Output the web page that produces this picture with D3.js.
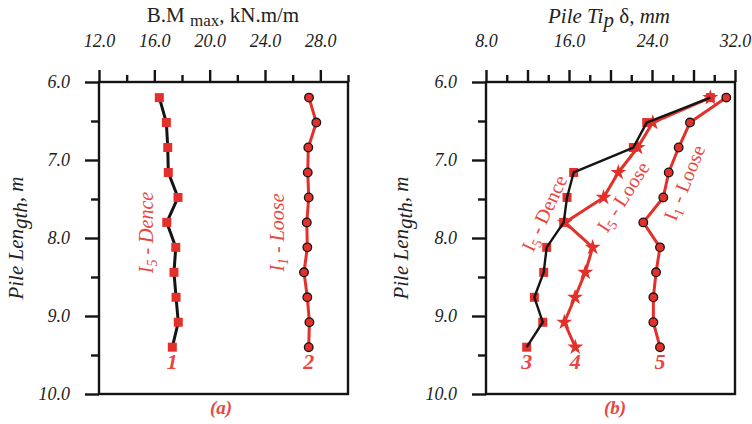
<!DOCTYPE html>
<html>
    <head>
        <meta charset="utf-8">
        <title>Pile results</title>
        <script type="text/javascript" src="https://d3js.org/d3.v7.min.js"></script>
        <style>
            body { margin: 0; background: #fff; }
            text { font-family: "Liberation Serif", "Times New Roman", serif; }
        </style>
    </head>
    <body>
        <script type="text/javascript">
            // pile length (m) at each measured point
            let depth = [6.2, 6.52, 6.84, 7.16, 7.48, 7.8, 8.12, 8.44, 8.76, 9.08, 9.4];

            // (a) B.M max, kN.m/m
            let bmDense = [16.36, 16.87, 16.97, 17.01, 17.71, 16.9, 17.55, 17.42, 17.57, 17.73, 17.3];
            let bmLoose = [27.18, 27.71, 27.13, 27.09, 27.16, 27.02, 27.06, 26.82, 27.06, 27.21, 27.16];

            // (b) pile tip displacement, mm
            let tipDenseI5 = [29.62, 23.49, 22.2, 16.45, 15.81, 15.49, 13.85, 13.56, 12.66, 13.47, 11.92];
            let tipLooseI5 = [29.62, 24.07, 22.62, 20.75, 19.34, 15.61, 18.28, 17.57, 16.58, 15.55, 16.61];
            let tipLooseI1 = [31.16, 27.66, 26.57, 25.61, 25.09, 23.16, 24.77, 24.39, 24.13, 24.13, 24.77];

            let yMajor = [6, 7, 8, 9, 10];
            let yMinor = [6.5, 7.5, 8.5, 9.5];
            let bmMajor = [12, 16, 20, 24, 28];
            let bmMinor = [14, 18, 22, 26, 30];
            let tipMajor = [8, 12, 16, 20, 24, 28, 32];
            let tipMinor = [10, 14, 18, 22, 26, 30];
            let tipLabels = [8, 16, 24, 32];

            let red = '#e3302a';
            let redText = '#e8463f';
            let ink = '#141414';

            let svg = d3.select('body')
                .append('svg')
                .attr('width', 752)
                .attr('height', 424);

            let y = d3.scaleLinear().domain([6, 10]).range([82, 394]);
            let xa = d3.scaleLinear().domain([12, 30]).range([99, 348]);
            let xb = d3.scaleLinear().domain([8, 32]).range([486, 735]);

            function drawAxes(x, major, minor, labels) {
                let g = svg.append('g');
                let fmt = d => labels.includes(d) ? d.toFixed(1) : '';

                g.append('g')
                    .attr('transform', `translate(0,${y(6)})`)
                    .call(d3.axisTop(x).tickValues(major).tickSize(12).tickPadding(23).tickFormat(fmt));
                g.append('g')
                    .attr('transform', `translate(0,${y(6)})`)
                    .call(d3.axisTop(x).tickValues(minor).tickSize(7).tickFormat(''));
                g.append('g')
                    .attr('transform', `translate(${x.range()[0]},0)`)
                    .call(d3.axisLeft(y).tickValues(yMajor).tickSize(14).tickPadding(15).tickFormat(d => d.toFixed(1)));
                g.append('g')
                    .attr('transform', `translate(${x.range()[0]},0)`)
                    .call(d3.axisLeft(y).tickValues(yMinor).tickSize(8).tickFormat(''));

                g.selectAll('.domain').remove();
                g.selectAll('line').attr('stroke', ink).attr('stroke-width', 2.4);
                g.selectAll('text')
                    .attr('fill', '#222')
                    .style('font-family', '"Liberation Serif", serif')
                    .style('font-style', 'italic')
                    .style('font-size', '18px');

                g.append('rect')
                    .attr('x', x.range()[0])
                    .attr('y', y(6))
                    .attr('width', x.range()[1] - x.range()[0])
                    .attr('height', y(10) - y(6))
                    .attr('fill', 'none')
                    .attr('stroke', ink)
                    .attr('stroke-width', 2.4);
            }

            function drawLine(x, vals, color, width) {
                let line = d3.line().x(d => x(d[0])).y(d => y(d[1]));
                svg.append('path')
                    .datum(d3.zip(vals, depth))
                    .attr('d', line)
                    .attr('fill', 'none')
                    .attr('stroke', color)
                    .attr('stroke-width', width)
                    .attr('stroke-linejoin', 'round');
            }

            function drawMarks(x, vals, kind) {
                let pts = d3.zip(vals, depth);
                let g = svg.append('g');
                if (kind === 'square') {
                    g.selectAll('rect').data(pts).enter().append('rect')
                        .attr('x', d => x(d[0]) - 4.5)
                        .attr('y', d => y(d[1]) - 4.5)
                        .attr('width', 9)
                        .attr('height', 9)
                        .attr('fill', red);
                } else if (kind === 'circle') {
                    g.selectAll('circle').data(pts).enter().append('circle')
                        .attr('cx', d => x(d[0]))
                        .attr('cy', d => y(d[1]))
                        .attr('r', 4.3)
                        .attr('fill', red)
                        .attr('stroke', ink)
                        .attr('stroke-width', 1.3);
                } else {
                    let star = d3.symbol().type(d3.symbolStar).size(40);
                    g.selectAll('path').data(pts).enter().append('path')
                        .attr('d', star)
                        .attr('transform', d => `translate(${x(d[0])},${y(d[1])})`)
                        .attr('fill', red)
                        .attr('stroke', red)
                        .attr('stroke-width', 1.5);
                }
            }

            function curveNumber(x, vals, label) {
                svg.append('text')
                    .attr('x', x(vals[vals.length - 1]))
                    .attr('y', y(9.4) + 22)
                    .attr('text-anchor', 'middle')
                    .attr('fill', redText)
                    .style('font-size', '22px')
                    .style('font-weight', 'bold')
                    .style('font-style', 'italic')
                    .text(label);
            }

            function curveName(px, py, angle, sub, rest, italic) {
                let t = svg.append('text')
                    .attr('transform', `translate(${px},${py}) rotate(${angle})`)
                    .attr('text-anchor', 'middle')
                    .attr('dy', '0.35em')
                    .attr('fill', redText)
                    .style('font-size', '20px')
                    .style('font-style', italic ? 'italic' : 'normal');
                t.append('tspan').text('I');
                t.append('tspan').attr('dy', 4).style('font-size', '14px').text(sub);
                t.append('tspan').attr('dy', -4).text(rest);
            }

            // ---- panel (a)
            drawAxes(xa, bmMajor, bmMinor, bmMajor);
            drawLine(xa, bmDense, ink, 3);
            drawLine(xa, bmLoose, red, 3);
            drawMarks(xa, bmDense, 'square');
            drawMarks(xa, bmLoose, 'circle');
            curveNumber(xa, bmDense, '1');
            curveNumber(xa, bmLoose, '2');
            curveName(xa(15.4), y(7.93), -90, '5', ' - Dence', true);
            curveName(xa(24.9), y(7.93), -90, '1', ' - Loose', true);

            // ---- panel (b)
            drawAxes(xb, tipMajor, tipMinor, tipLabels);
            drawLine(xb, tipLooseI5, red, 3);
            drawLine(xb, tipLooseI1, red, 3);
            drawMarks(xb, tipDenseI5, 'square');
            drawMarks(xb, tipLooseI5, 'star');
            drawMarks(xb, tipLooseI1, 'circle');
            drawLine(xb, tipDenseI5, ink, 2.4);
            curveNumber(xb, tipDenseI5, '3');
            curveNumber(xb, tipLooseI5, '4');
            curveNumber(xb, tipLooseI1, '5');
            curveName(xb(13.6), y(7.68), -65, '5', ' - Dence', false);
            curveName(xb(21.2), y(7.47), -57, '5', ' - Loose', false);
            curveName(xb(27.1), y(7.29), -68, '1', ' - Loose', false);

            // ---- titles
            let t1 = svg.append('text')
                .attr('x', 223).attr('y', 22)
                .attr('text-anchor', 'middle')
                .attr('fill', '#222')
                .style('font-size', '21px');
            t1.append('tspan').text('B.M ');
            t1.append('tspan').attr('dy', 4).style('font-size', '17px').text('max');
            t1.append('tspan').attr('dy', -4).text(', kN.m/m');

            let t2 = svg.append('text')
                .attr('x', 609).attr('y', 23)
                .attr('text-anchor', 'middle')
                .attr('fill', '#222')
                .style('font-size', '21px')
                .style('font-style', 'italic');
            t2.append('tspan').text('Pile Ti');
            t2.append('tspan').attr('dy', 4).text('p');
            t2.append('tspan').attr('dy', -4).style('font-style', 'normal').text(' δ');
            t2.append('tspan').text(', mm');

            [16, 401].forEach(px => {
                let t = svg.append('text')
                    .attr('transform', `translate(${px},238) rotate(-90)`)
                    .attr('text-anchor', 'middle')
                    .attr('dy', '0.35em')
                    .attr('fill', '#222')
                    .style('font-size', '21px')
                    .style('font-style', 'italic');
                t.append('tspan').text('Pile Len');
                t.append('tspan').attr('dy', 4).text('gth');
                t.append('tspan').attr('dy', -4).text(', m');
            });

            [['(a)', 221], ['(b)', 615]].forEach(p => {
                svg.append('text')
                    .attr('x', p[1]).attr('y', 414)
                    .attr('text-anchor', 'middle')
                    .attr('fill', redText)
                    .style('font-size', '19px')
                    .style('font-weight', 'bold')
                    .style('font-style', 'italic')
                    .text(p[0]);
            });
        </script>
    </body>
</html>
